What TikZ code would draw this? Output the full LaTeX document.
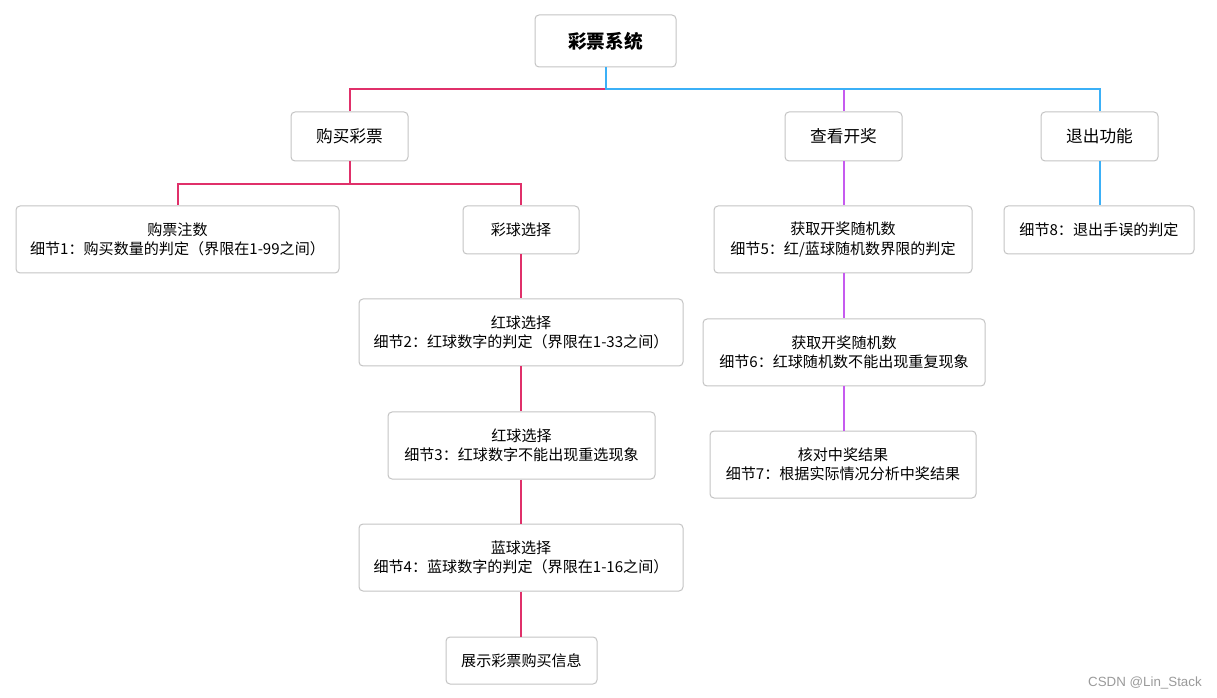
\documentclass[tikz,border=0pt]{standalone}
\usepackage{fontspec}
\setmainfont{Noto Sans CJK SC}
\newfontfamily\wmfont{Liberation Sans}
\definecolor{boxgray}{HTML}{C4C4C4}
\definecolor{pinkline}{HTML}{E0306A}
\definecolor{purpleline}{HTML}{C65BEF}
\definecolor{blueline}{HTML}{3BB0F7}
\definecolor{wmgray}{HTML}{9A9A9A}
\begin{document}
\begin{tikzpicture}[x=0.75pt,y=-0.75pt,
  box/.style={draw=boxgray, fill=white, rounded corners=3pt, line width=0.75pt,
    inner sep=0pt, align=center, font=\fontsize{11.3}{14.5}\selectfont},
  mid/.style={box, font=\fontsize{12.5}{14}\selectfont},
  topbox/.style={box, font=\fontsize{14}{16}\selectfont\bfseries},
  sz/.style 2 args={minimum width=#1*0.75pt, minimum height=#2*0.75pt},
  conn/.style={line width=1.5pt}
]
\useasboundingbox (0,0) rectangle (1217,698);

\node[topbox, sz={141}{52}] (root) at (605.5,41) {彩票系统};
\node[mid, sz={117}{49}] (buy) at (349.5,136.5) {购买彩票};
\node[mid, sz={117}{49}] (view) at (843.5,136.5) {查看开奖};
\node[mid, sz={117}{49}] (exit) at (1099.5,136.5) {退出功能};

\node[box, sz={323}{67}] (n1) at (177.5,239.5) {购票注数\\细节1：购买数量的判定（界限在1-99之间）};
\node[box, sz={116}{48}] (ball) at (521,230) {彩球选择};
\node[box, sz={324}{67}] (n2) at (521,332.5) {红球选择\\细节2：红球数字的判定（界限在1-33之间）};
\node[box, sz={267}{67}] (n3) at (521.5,445.5) {红球选择\\ 细节3：红球数字不能出现重选现象};
\node[box, sz={324}{67}] (n4) at (521,557.5) {蓝球选择\\细节4：蓝球数字的判定（界限在1-16之间）};
\node[box, sz={151}{47}] (show) at (521.5,660.5) {展示彩票购买信息};

\node[box, sz={258}{67}] (n5) at (843,239.5) {获取开奖随机数\\ 细节5：红/蓝球随机数界限的判定};
\node[box, sz={282}{67}] (n6) at (844,352.5) {获取开奖随机数\\ 细节6：红球随机数不能出现重复现象};
\node[box, sz={266}{67}] (n7) at (843,464.5) {核对中奖结果\\ 细节7：根据实际情况分析中奖结果};

\node[box, sz={190}{48}] (n8) at (1099,230) {细节8：退出手误的判定};

\coordinate (j0) at (605.5,89);
\coordinate (j1) at (349.5,184);

% level 1
\draw[conn, purpleline] (view.north |- j0) -- (view.north);
\draw[conn, pinkline] (j0) -| (buy.north);
\draw[conn, blueline] (root.south) -- (j0) -| (exit.north);

% buy branch
\draw[conn, pinkline] (buy.south) -- (j1) -| (n1.north);
\draw[conn, pinkline] (j1) -| (ball.north);
\draw[conn, pinkline] (ball.south) -- (n2.north -| ball.south);
\draw[conn, pinkline] (n2.south -| ball.south) -- (n3.north -| ball.south);
\draw[conn, pinkline] (n3.south -| ball.south) -- (n4.north -| ball.south);
\draw[conn, pinkline] (n4.south -| ball.south) -- (show.north -| ball.south);

% view branch
\draw[conn, purpleline] (view.south) -- (n5.north -| view.south);
\draw[conn, purpleline] (n5.south -| view.south) -- (n6.north -| view.south);
\draw[conn, purpleline] (n6.south -| view.south) -- (n7.north -| view.south);

% exit branch
\draw[conn, blueline] (exit.south) -- (n8.north -| exit.south);

\node[anchor=east, inner sep=0pt, text=wmgray, font=\wmfont\fontsize{10}{12}\selectfont] (wm) at (1202,683) {CSDN @Lin\_Stack};
\end{tikzpicture}
\end{document}
